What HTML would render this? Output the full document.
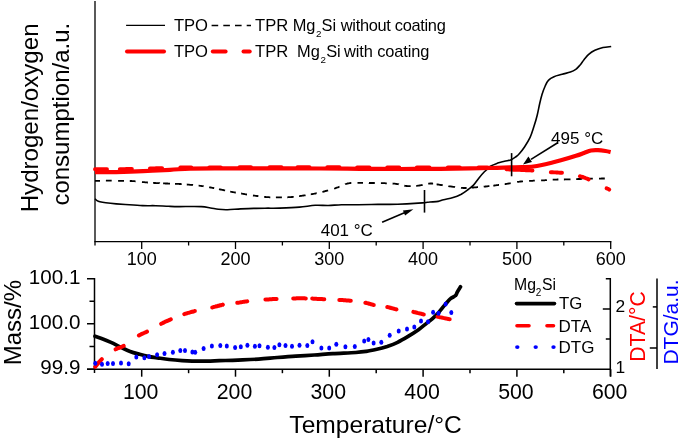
<!DOCTYPE html><html><head><meta charset="utf-8"><style>html,body{margin:0;padding:0;background:#fff;}svg{display:block;will-change:transform}</style></head><body>
<svg width="685" height="441" viewBox="0 0 685 441" font-family="&quot;Liberation Sans&quot;, sans-serif">
<rect width="685" height="441" fill="#fff"/>
<g stroke="#000" fill="none">
<line x1="95" y1="1" x2="95" y2="245.5" stroke-width="1.3"/>
<line x1="94.4" y1="241.5" x2="611.4" y2="241.5" stroke-width="1.25"/>
<line x1="141.7" y1="241.5" x2="141.7" y2="249.0" stroke-width="1.3"/>
<line x1="188.6" y1="241.5" x2="188.6" y2="245.5" stroke-width="1.3"/>
<line x1="235.5" y1="241.5" x2="235.5" y2="249.0" stroke-width="1.3"/>
<line x1="282.4" y1="241.5" x2="282.4" y2="245.5" stroke-width="1.3"/>
<line x1="329.3" y1="241.5" x2="329.3" y2="249.0" stroke-width="1.3"/>
<line x1="376.2" y1="241.5" x2="376.2" y2="245.5" stroke-width="1.3"/>
<line x1="423.1" y1="241.5" x2="423.1" y2="249.0" stroke-width="1.3"/>
<line x1="470.0" y1="241.5" x2="470.0" y2="245.5" stroke-width="1.3"/>
<line x1="516.9" y1="241.5" x2="516.9" y2="249.0" stroke-width="1.3"/>
<line x1="563.8" y1="241.5" x2="563.8" y2="245.5" stroke-width="1.3"/>
<line x1="610.7" y1="241.5" x2="610.7" y2="249.0" stroke-width="1.3"/>
</g>
<text x="141.7" y="265.1" font-size="18" text-anchor="middle">100</text>
<text x="235.5" y="265.1" font-size="18" text-anchor="middle">200</text>
<text x="329.3" y="265.1" font-size="18" text-anchor="middle">300</text>
<text x="423.1" y="265.1" font-size="18" text-anchor="middle">400</text>
<text x="516.9" y="265.1" font-size="18" text-anchor="middle">500</text>
<text x="610.7" y="265.1" font-size="18" text-anchor="middle">600</text>
<text transform="translate(38.2,212.3) rotate(-90)" font-size="24.1">Hydrogen/oxygen</text>
<text transform="translate(68.9,205.6) rotate(-90)" font-size="24">consumption/a.u.</text>
<path d="M95.0,180.8 L95.4,180.8 L95.8,180.8 L96.3,180.8 L96.9,180.8 L97.5,180.8 L98.2,180.8 L98.9,180.8 L99.6,180.8 L100.0,180.8 M105.9,180.7 L105.9,180.7 L106.7,180.7 L107.4,180.7 L108.1,180.7 L108.8,180.7 L109.4,180.7 L110.1,180.7 L110.7,180.7 L111.4,180.7 L111.7,180.7 M118.1,180.8 L118.6,180.8 L119.2,180.8 L119.8,180.8 L120.4,180.8 L121.0,180.8 L121.6,180.8 L122.2,180.8 L122.8,180.8 L123.4,180.8 L123.9,180.8 L124.0,180.8 M129.8,181.0 L130.3,181.0 L130.9,181.0 L131.5,181.0 L132.1,181.1 L132.7,181.1 L133.3,181.1 L133.9,181.2 L134.5,181.2 L135.1,181.3 L135.6,181.3 M142.0,182.0 L142.6,182.1 L143.2,182.1 L143.8,182.2 L144.4,182.2 L145.0,182.3 L145.6,182.3 L146.2,182.4 L146.8,182.4 L147.4,182.5 L147.9,182.5 M153.1,182.9 L153.1,182.9 L153.7,182.9 L154.2,183.0 L154.8,183.0 L155.3,183.0 L155.9,183.1 L156.4,183.1 L156.9,183.1 L157.5,183.2 L158.0,183.2 L158.5,183.2 L159.0,183.2 L159.5,183.2 L159.6,183.3 M163.1,183.4 L163.4,183.4 L163.9,183.4 L164.4,183.4 L164.9,183.4 L165.4,183.5 L166.0,183.5 L166.5,183.5 L167.1,183.5 L167.6,183.5 L168.2,183.6 L168.8,183.6 L169.3,183.6 L169.9,183.6 L170.0,183.6 M175.0,183.8 L175.3,183.8 L175.9,183.8 L176.5,183.8 L177.1,183.8 L177.7,183.9 L178.3,183.9 L178.9,183.9 L179.5,184.0 L180.0,184.0 L180.6,184.0 L181.2,184.1 L181.7,184.1 M186.8,184.5 L186.9,184.5 L187.5,184.6 L188.1,184.6 L188.7,184.7 L189.2,184.7 L189.8,184.8 L190.4,184.8 L190.9,184.9 L191.5,184.9 L192.1,185.0 L192.7,185.0 L192.9,185.1 M198.6,185.6 L198.9,185.6 L199.4,185.7 L200.0,185.8 L200.6,185.8 L201.1,185.9 L201.6,186.0 L202.2,186.1 L202.7,186.1 L203.3,186.2 L203.6,186.3 M209.2,187.2 L209.6,187.3 L210.1,187.4 L210.7,187.5 L211.2,187.6 L211.7,187.7 L212.2,187.8 L212.7,187.9 L213.3,188.0 L213.8,188.1 L214.2,188.2 M219.0,189.2 L219.4,189.3 L219.9,189.4 L220.4,189.5 L220.9,189.6 L221.5,189.7 L222.0,189.8 L222.5,189.9 L223.1,190.0 L223.6,190.1 L224.2,190.3 L224.7,190.4 L225.1,190.5 M230.2,191.5 L230.2,191.5 L230.8,191.7 L231.3,191.8 L231.9,191.9 L232.4,192.0 L233.0,192.1 L233.5,192.2 L234.1,192.3 L234.6,192.4 L235.2,192.5 L235.7,192.6 L235.8,192.6 M241.1,193.5 L241.2,193.5 L241.8,193.6 L242.3,193.7 L242.9,193.8 L243.4,193.9 L244.0,194.0 L244.6,194.1 L245.1,194.2 L245.7,194.3 L246.3,194.4 L246.9,194.5 L247.0,194.5 M253.0,195.4 L253.4,195.5 L254.0,195.6 L254.6,195.6 L255.1,195.7 L255.7,195.8 L256.3,195.9 L256.8,196.0 L257.4,196.0 L257.9,196.1 L258.4,196.2 M264.2,196.9 L264.3,196.9 L264.9,197.0 L265.5,197.0 L266.0,197.1 L266.6,197.1 L267.2,197.1 L267.8,197.2 L268.4,197.2 L269.0,197.2 L269.6,197.3 L270.2,197.3 L270.3,197.3 M275.9,197.4 L276.5,197.4 L277.1,197.4 L277.7,197.4 L278.3,197.4 L278.9,197.4 L279.5,197.4 L280.1,197.4 L280.7,197.4 L281.3,197.4 L281.8,197.4 L281.9,197.4 M287.3,197.3 L287.6,197.3 L288.2,197.2 L288.8,197.2 L289.3,197.2 L289.9,197.1 L290.5,197.1 L291.1,197.1 L291.7,197.0 L292.3,197.0 L292.9,196.9 L293.4,196.8 L293.7,196.8 M299.1,196.1 L299.4,196.1 L300.0,196.0 L300.5,195.9 L301.1,195.9 L301.7,195.8 L302.3,195.7 L302.9,195.6 L303.5,195.5 L304.0,195.4 L304.6,195.4 L305.2,195.3 L305.5,195.2 M310.8,194.3 L310.9,194.3 L311.4,194.2 L312.0,194.1 L312.6,194.0 L313.1,193.9 L313.7,193.8 L314.3,193.7 L314.8,193.6 L315.4,193.5 L316.0,193.3 L316.6,193.2 L316.7,193.2 M322.4,191.9 L322.9,191.8 L323.5,191.6 L324.0,191.5 L324.6,191.4 L325.2,191.2 L325.8,191.0 L326.4,190.9 L326.9,190.7 L327.5,190.6 L328.1,190.4 L328.1,190.4 M334.1,188.6 L334.5,188.5 L335.1,188.3 L335.6,188.1 L336.2,187.9 L336.8,187.7 L337.4,187.5 L337.9,187.3 L338.5,187.1 L339.1,186.8 L339.5,186.7 M345.2,184.3 L345.3,184.2 L345.9,184.0 L346.5,183.8 L347.0,183.7 L347.6,183.5 L348.2,183.4 L348.8,183.3 L349.4,183.2 L350.0,183.1 L350.6,183.0 L351.2,183.0 L351.3,183.0 M357.5,182.9 L357.8,182.9 L358.4,182.9 L359.0,182.9 L359.6,182.9 L360.2,182.9 L360.8,182.9 L361.4,182.9 L362.0,182.9 L362.6,182.9 L363.0,182.9 M368.9,182.9 L369.2,183.0 L369.8,183.0 L370.4,183.0 L371.0,183.0 L371.6,183.0 L372.2,183.0 L372.8,183.0 L373.4,183.0 L374.0,183.0 L374.5,183.0 L374.8,183.0 M380.9,183.1 L381.5,183.1 L382.1,183.1 L382.6,183.2 L383.2,183.2 L383.8,183.2 L384.4,183.2 L385.0,183.2 L385.6,183.3 L386.1,183.3 L386.7,183.3 L386.8,183.3 M392.6,183.5 L392.6,183.5 L393.2,183.6 L393.8,183.6 L394.4,183.7 L395.0,183.7 L395.6,183.8 L396.2,183.9 L396.8,184.0 L397.4,184.1 L398.0,184.2 L398.6,184.3 L398.7,184.4 M404.3,185.6 L404.5,185.7 L405.1,185.8 L405.7,185.9 L406.3,186.0 L406.9,186.0 L407.5,186.1 L408.1,186.1 L408.7,186.2 L409.3,186.2 L409.9,186.2 L410.5,186.2 L410.7,186.2 M416.2,185.8 L416.4,185.8 L417.0,185.8 L417.6,185.7 L418.1,185.6 L418.7,185.6 L419.3,185.5 L419.9,185.4 L420.4,185.3 L421.0,185.2 L421.6,185.1 L422.2,185.0 L422.6,184.9 M428.2,183.7 L428.3,183.7 L428.8,183.6 L429.4,183.6 L429.9,183.5 L430.4,183.5 L430.9,183.5 L431.4,183.5 L431.9,183.5 L432.3,183.5 L432.8,183.6 L433.1,183.6 M436.6,184.3 L436.7,184.3 L437.1,184.4 L437.6,184.5 L438.1,184.5 L438.6,184.6 L439.1,184.7 L439.6,184.8 L440.1,184.9 L440.7,185.0 L441.3,185.0 L441.8,185.1 L442.4,185.2 L442.7,185.3 M448.4,186.1 L448.6,186.2 L449.2,186.3 L449.9,186.3 L450.5,186.4 L451.1,186.5 L451.7,186.6 L452.3,186.7 L452.9,186.8 L453.5,186.9 L454.1,186.9 L454.8,187.0 L455.0,187.1 M461.0,187.8 L461.5,187.9 L462.1,187.9 L462.6,187.9 L463.2,188.0 L463.8,188.0 L464.4,188.0 L464.9,188.0 L465.5,188.0 L466.0,188.0 L466.6,188.0 L466.6,188.0 M471.5,187.7 L471.9,187.6 L472.5,187.6 L473.0,187.5 L473.6,187.5 L474.1,187.4 L474.7,187.4 L475.3,187.4 L475.9,187.3 L476.4,187.3 L477.0,187.2 L477.6,187.2 L478.0,187.2 M483.7,186.7 L484.3,186.6 L484.8,186.6 L485.4,186.5 L486.0,186.5 L486.5,186.4 L487.0,186.3 L487.5,186.3 L488.0,186.2 L488.5,186.2 L489.0,186.1 L489.4,186.1 M493.3,185.6 L493.5,185.6 L494.0,185.6 L494.5,185.5 L495.0,185.4 L495.5,185.4 L496.0,185.3 L496.5,185.2 L497.1,185.2 L497.6,185.1 L498.2,185.0 L498.7,184.9 L499.0,184.9 M504.7,184.1 L505.2,184.1 L505.8,184.0 L506.4,183.9 L507.0,183.8 L507.6,183.7 L508.2,183.6 L508.8,183.5 L509.4,183.4 L510.0,183.3 L510.7,183.2 L510.7,183.2 M517.1,182.0 L517.5,181.9 L518.2,181.8 L518.8,181.8 L519.4,181.7 L520.0,181.6 L520.6,181.5 L521.2,181.5 L521.8,181.4 L522.4,181.4 L523.0,181.3 M529.1,180.9 L529.6,180.9 L530.2,180.9 L530.8,180.9 L531.4,180.8 L532.0,180.8 L532.6,180.8 L533.2,180.7 L533.8,180.7 L534.4,180.7 L534.8,180.7 M541.1,180.4 L541.6,180.4 L542.2,180.4 L542.8,180.4 L543.4,180.3 L544.0,180.3 L544.6,180.3 L545.2,180.2 L545.8,180.2 L546.3,180.2 L546.9,180.1 M552.7,179.7 L553.2,179.7 L553.8,179.7 L554.3,179.7 L554.9,179.6 L555.5,179.6 L556.1,179.6 L556.7,179.6 L557.2,179.5 L557.8,179.5 L558.4,179.5 M563.9,179.5 L564.2,179.5 L564.8,179.4 L565.4,179.4 L566.0,179.4 L566.6,179.4 L567.2,179.4 L567.8,179.4 L568.4,179.4 L569.0,179.3 L569.6,179.3 L570.2,179.3 L570.5,179.3 M576.2,179.1 L576.2,179.1 L576.8,179.1 L577.4,179.1 L578.0,179.0 L578.6,179.0 L579.2,179.0 L579.8,179.0 L580.3,179.0 L580.9,178.9 L581.4,178.9 L582.0,178.9 L582.3,178.9 M588.0,178.8 L588.5,178.7 L589.1,178.7 L589.8,178.7 L590.4,178.7 L591.1,178.7 L591.8,178.7 L592.5,178.7 L592.8,178.7 M599.0,178.6 L599.2,178.6 L600.0,178.6 L600.8,178.6 L601.6,178.5 L602.3,178.5 L603.0,178.5 L603.6,178.5 L604.1,178.5 L604.6,178.5 L604.8,178.5" fill="none" stroke="#000" stroke-width="1.8"/>
<path d="M95.0,198.7 C95.3,199.0 96.2,200.1 97.0,200.6 C97.8,201.1 98.4,201.4 99.9,201.8 C101.4,202.2 103.1,202.5 105.8,202.8 C108.5,203.2 112.4,203.6 116.3,203.9 C120.2,204.2 125.0,204.5 129.4,204.8 C133.8,205.1 138.2,205.4 142.6,205.6 C147.0,205.8 151.3,205.6 155.7,205.7 C160.1,205.8 164.9,206.2 168.8,206.3 C172.8,206.5 174.0,206.6 179.4,206.6 C184.8,206.6 196.1,206.4 201.3,206.6 C206.5,206.8 207.7,207.6 210.5,208.0 C213.3,208.4 215.6,209.0 218.4,209.3 C221.2,209.6 223.9,209.8 227.6,209.7 C231.3,209.6 236.3,209.1 240.7,208.9 C245.1,208.7 249.8,208.5 253.8,208.4 C257.9,208.3 260.7,208.2 265.0,208.2 C269.3,208.1 274.0,208.3 279.7,208.1 C285.4,207.9 293.5,207.6 299.4,207.1 C305.3,206.6 310.4,205.6 315.2,205.3 C320.0,205.0 323.9,205.6 328.3,205.5 C332.7,205.4 336.5,204.8 341.5,204.7 C346.5,204.6 352.0,204.8 358.1,204.7 C364.2,204.6 371.3,204.5 377.9,204.4 C384.5,204.3 391.5,204.4 397.6,204.2 C403.7,204.0 410.1,203.7 414.6,203.4 C419.1,203.2 421.9,202.9 424.5,202.7 C427.1,202.5 427.7,202.2 430.0,202.0 C432.3,201.8 435.9,201.8 438.2,201.4 C440.5,201.0 441.1,200.3 443.6,199.7 C446.1,199.1 450.2,198.5 453.1,197.6 C456.1,196.7 458.8,195.5 461.3,194.2 C463.8,192.8 466.1,191.0 468.1,189.5 C470.1,188.0 471.7,187.0 473.5,185.1 C475.3,183.2 477.2,180.1 479.0,177.9 C480.8,175.7 482.4,173.8 484.4,171.8 C486.4,169.8 488.7,167.4 490.9,166.0 C493.1,164.6 495.4,163.9 497.7,163.1 C500.0,162.3 502.2,161.9 504.5,161.3 C506.8,160.7 509.3,160.5 511.3,159.7 C513.3,158.9 514.9,157.5 516.3,156.5 C517.7,155.5 518.1,155.1 519.5,153.5 C520.9,151.9 522.7,149.7 524.5,147.0 C526.3,144.3 528.5,140.8 530.1,137.4 C531.7,134.0 532.8,130.0 534.0,126.3 C535.2,122.6 536.3,118.9 537.2,115.2 C538.1,111.5 538.8,107.5 539.6,104.0 C540.4,100.5 541.1,97.5 542.0,94.5 C542.9,91.5 544.1,88.4 545.2,86.0 C546.3,83.6 547.1,81.6 548.6,80.1 C550.1,78.5 551.7,77.7 554.0,76.7 C556.3,75.7 559.5,75.1 562.2,74.3 C564.9,73.5 568.1,72.8 570.4,72.0 C572.7,71.2 574.2,70.4 575.8,69.3 C577.4,68.2 578.5,66.8 579.9,65.2 C581.3,63.6 582.5,61.5 584.0,59.7 C585.5,57.9 586.9,55.9 588.7,54.3 C590.5,52.7 592.5,51.3 594.9,50.2 C597.3,49.1 600.3,48.1 603.0,47.5 C605.7,46.9 609.8,46.7 611.2,46.5" fill="none" stroke="#000" stroke-width="1.6"/>
<path d="M95.0,172.2 C98.5,172.2 108.0,172.3 116.0,172.1 C124.0,171.9 134.0,171.6 143.0,171.2 C152.0,170.8 162.2,170.2 170.0,169.8 C177.8,169.4 182.5,168.8 190.0,168.6 C197.5,168.4 202.5,168.4 215.0,168.4 C227.5,168.4 247.5,168.3 265.0,168.3 C282.5,168.3 304.2,168.4 320.0,168.5 C335.8,168.6 346.7,168.7 360.0,168.8 C373.3,168.9 386.7,169.0 400.0,169.0 C413.3,169.0 428.3,168.9 440.0,168.8 C451.7,168.7 461.7,168.5 470.0,168.4 C478.3,168.3 483.3,168.2 490.0,168.0 C496.7,167.8 504.7,167.5 510.0,167.4 C515.3,167.3 517.5,167.4 522.0,167.2 C526.5,167.0 530.7,167.1 537.0,166.0 C543.3,164.9 553.5,162.2 560.0,160.5 C566.5,158.8 572.0,157.1 576.0,155.8 C580.0,154.6 581.5,153.9 584.0,153.0 C586.5,152.1 588.7,151.0 591.0,150.5 C593.3,150.0 595.6,150.1 598.0,150.2 C600.4,150.3 603.4,150.7 605.5,151.0 C607.6,151.3 609.8,151.9 610.6,152.1" fill="none" stroke="#ff0000" stroke-width="4.2" stroke-linejoin="round"/>
<path d="M95.0,169.2 L96.0,169.2 L97.1,169.2 L98.4,169.2 L99.8,169.2 L101.4,169.2 L103.1,169.2 L104.9,169.2 L106.7,169.2 L107.0,169.2 M119.8,169.1 L120.8,169.1 L122.8,169.1 L124.7,169.1 L126.5,169.0 L128.3,169.0 L130.0,169.0 L131.6,169.0 L131.9,169.0 M149.9,168.5 L150.5,168.5 L152.0,168.5 L153.4,168.4 L154.8,168.4 L156.1,168.3 L157.5,168.3 L158.8,168.2 L160.0,168.2 L161.1,168.2 L162.0,168.1 L162.1,168.1 M180.3,167.5 L181.8,167.5 L185.0,167.5 L188.6,167.4 L191.3,167.4 M209.3,167.4 L210.1,167.4 L214.9,167.4 L219.8,167.4 L220.8,167.4 M239.5,167.3 L244.1,167.3 L248.7,167.3 L251.0,167.3 M269.5,167.3 L271.8,167.3 L275.1,167.3 L278.2,167.3 L281.3,167.3 L281.5,167.3 M297.5,167.3 L298.0,167.3 L300.6,167.3 L303.1,167.3 L305.6,167.3 L308.0,167.3 L309.5,167.3 M327.3,167.3 L329.0,167.3 L331.1,167.3 L333.1,167.3 L335.1,167.3 L337.1,167.3 L339.0,167.3 L339.5,167.3 M357.1,167.4 L358.0,167.4 L360.0,167.4 L362.0,167.4 L364.0,167.4 L366.0,167.4 L368.0,167.4 L369.5,167.4 M387.2,167.5 L388.0,167.5 L390.0,167.5 L392.0,167.5 L394.0,167.5 L396.0,167.5 L398.0,167.5 L399.3,167.5 M416.8,167.5 L418.0,167.5 L420.0,167.5 L422.0,167.5 L424.0,167.5 L426.0,167.5 L428.0,167.5 L429.5,167.5 M447.8,167.5 L448.4,167.5 L450.6,167.5 L452.8,167.5 L455.0,167.4 L457.2,167.4 L459.4,167.4 L459.8,167.4 M478.5,167.4 L478.6,167.4 L480.0,167.4 L481.3,167.4 L482.5,167.4 L483.6,167.4 L484.7,167.5 L485.6,167.5 L486.5,167.5 L487.3,167.5 L488.0,167.6 L488.7,167.6 L489.3,167.6 L489.9,167.6 L490.5,167.7 L490.5,167.7 M506.5,169.3 L507.0,169.4 L508.2,169.4 L509.4,169.5 L510.7,169.6 L512.1,169.6 L513.6,169.7 L515.0,169.7 L516.6,169.8 L518.2,169.9 L519.7,169.9 L521.3,170.0 L522.9,170.1 L524.5,170.1 L526.0,170.2 L527.5,170.3 L528.9,170.3 L530.3,170.4 L531.6,170.5 L532.5,170.5 M550.8,172.2 L551.5,172.2 L552.2,172.3 L552.9,172.3 L553.6,172.4 L554.3,172.4 L555.0,172.4 L555.7,172.4 L556.4,172.5 L557.1,172.5 L557.8,172.5 L558.5,172.6 L559.2,172.6 L559.9,172.7 L560.6,172.7 L561.3,172.8 L562.0,172.8 M579.9,176.2 L580.3,176.3 L580.9,176.5 L581.5,176.7 L582.1,176.9 L582.6,177.0 L583.2,177.2 L583.7,177.4 L584.3,177.6 L584.9,177.8 L585.4,178.0 L586.0,178.2 L586.5,178.5 L587.1,178.7 L587.7,178.9 L588.3,179.2 L588.7,179.4 M606.6,188.3 L606.9,188.4 L607.3,188.6 L607.6,188.8 L608.0,188.9 L608.3,189.1 L608.6,189.2 L608.8,189.4 L609.1,189.5 L609.2,189.6" fill="none" stroke="#ff0000" stroke-width="3.9" stroke-linecap="round"/>
<g stroke="#000" stroke-width="1.6">
<line x1="424.5" y1="190" x2="424.5" y2="212.6"/>
<line x1="511.6" y1="153.1" x2="511.6" y2="176.3"/>
<line x1="382.1" y1="222.3" x2="405" y2="212.5"/>
<line x1="557.7" y1="142.7" x2="531" y2="159.4"/>
</g>
<path d="M413.4,209.2 L402.9,210.4 L405.1,215.6 Z" fill="#000"/>
<path d="M523,164.4 L528.4,156.4 L532,162 Z" fill="#000"/>
<text x="320.7" y="235.5" font-size="17">401 °C</text>
<text x="551.1" y="143.9" font-size="17">495 °C</text>
<line x1="126.1" y1="25.4" x2="165" y2="25.4" stroke="#000" stroke-width="1.4"/>
<line x1="211.6" y1="25.4" x2="251" y2="25.4" stroke="#000" stroke-width="1.5" stroke-dasharray="6.6 5.1"/>
<line x1="127" y1="51.4" x2="164" y2="51.4" stroke="#ff0000" stroke-width="4" stroke-linecap="round"/>
<line x1="212.8" y1="51.4" x2="225.6" y2="51.4" stroke="#ff0000" stroke-width="4" stroke-linecap="round"/>
<line x1="243.5" y1="51.4" x2="249.7" y2="51.4" stroke="#ff0000" stroke-width="4" stroke-linecap="round"/>
<text x="173.9" y="31" font-size="16.6">TPO</text>
<text x="173.9" y="57" font-size="16.6">TPO</text>
<text x="255" y="31" font-size="16.6">TPR</text><text x="292.7" y="31" font-size="16.4">Mg</text><text x="316" y="37.3" font-size="9.8">2</text><text x="321.6" y="31" font-size="16.4">Si</text><text x="340.8" y="31" font-size="16.4" textLength="105" lengthAdjust="spacing">without coating</text>
<text x="255" y="57" font-size="16.6">TPR</text><text x="297" y="57" font-size="16.4">Mg</text><text x="320.6" y="63.3" font-size="9.8">2</text><text x="326.2" y="57" font-size="16.4">Si</text><text x="344.1" y="57" font-size="16.4" textLength="85.3" lengthAdjust="spacing">with coating</text>
<g stroke="#000" fill="none" stroke-width="1.5">
<line x1="94.5" y1="278" x2="94.5" y2="373"/>
<line x1="87" y1="369.2" x2="611" y2="369.2"/>
<line x1="87" y1="278.75" x2="94.5" y2="278.75"/>
<line x1="87" y1="323.75" x2="94.5" y2="323.75"/>
<line x1="87" y1="369.25" x2="94.5" y2="369.25"/>
<line x1="89.5" y1="301.25" x2="94.5" y2="301.25"/>
<line x1="89.5" y1="346.5" x2="94.5" y2="346.5"/>
<line x1="141.7" y1="369.2" x2="141.7" y2="376.7"/>
<line x1="188.6" y1="369.2" x2="188.6" y2="373.2"/>
<line x1="235.5" y1="369.2" x2="235.5" y2="376.7"/>
<line x1="282.4" y1="369.2" x2="282.4" y2="373.2"/>
<line x1="329.3" y1="369.2" x2="329.3" y2="376.7"/>
<line x1="376.2" y1="369.2" x2="376.2" y2="373.2"/>
<line x1="423.1" y1="369.2" x2="423.1" y2="376.7"/>
<line x1="470.0" y1="369.2" x2="470.0" y2="373.2"/>
<line x1="516.9" y1="369.2" x2="516.9" y2="376.7"/>
<line x1="563.8" y1="369.2" x2="563.8" y2="373.2"/>
<line x1="610.7" y1="369.2" x2="610.7" y2="376.7"/>
<line x1="610.3" y1="278" x2="610.3" y2="376.5"/>
<line x1="605.8" y1="278.75" x2="610.3" y2="278.75"/>
<line x1="602.8" y1="309" x2="610.3" y2="309"/>
<line x1="605.8" y1="339" x2="610.3" y2="339"/>
<line x1="657" y1="278.5" x2="657" y2="369"/>
<line x1="652.8" y1="306.9" x2="657" y2="306.9"/>
<line x1="649.8" y1="348" x2="657" y2="348"/>
</g>
<text x="140.7" y="399.2" font-size="21.3" text-anchor="middle">100</text>
<text x="234.5" y="399.2" font-size="21.3" text-anchor="middle">200</text>
<text x="328.3" y="399.2" font-size="21.3" text-anchor="middle">300</text>
<text x="422.1" y="399.2" font-size="21.3" text-anchor="middle">400</text>
<text x="515.9" y="399.2" font-size="21.3" text-anchor="middle">500</text>
<text x="609.7" y="399.2" font-size="21.3" text-anchor="middle">600</text>
<text x="80.4" y="284" font-size="20.6" text-anchor="end">100.1</text>
<text x="80.4" y="328.8" font-size="20.6" text-anchor="end">100.0</text>
<text x="80.4" y="373.5" font-size="20.6" text-anchor="end">99.9</text>
<text x="615.5" y="312.4" font-size="17.4">2</text>
<text x="615.5" y="372.6" font-size="17.4">1</text>
<text x="375.6" y="433" font-size="24.6" text-anchor="middle">Temperature/°C</text>
<text transform="translate(20.7,365.3) rotate(-90)" font-size="24">Mass/%</text>
<text transform="translate(645.4,361.7) rotate(-90)" font-size="21.2" fill="#ff0000">DTA/°C</text>
<text transform="translate(677.9,364.6) rotate(-90)" font-size="21" fill="#0000ff">DTG/a.u.</text>
<path d="M95.0,336.2 C96.1,336.6 98.8,337.6 101.5,338.6 C104.2,339.6 107.8,341.0 111.0,342.4 C114.2,343.8 117.4,345.6 120.6,347.1 C123.8,348.6 126.9,350.2 130.1,351.4 C133.3,352.6 136.4,353.4 139.6,354.3 C142.8,355.2 146.1,356.0 149.1,356.6 C152.1,357.2 154.1,357.3 157.4,357.8 C160.8,358.3 165.1,359.0 169.2,359.5 C173.3,360.0 176.9,360.3 182.2,360.6 C187.5,360.9 194.6,361.2 200.8,361.2 C207.0,361.2 213.1,360.9 219.3,360.7 C225.5,360.5 231.3,360.4 237.9,360.1 C244.5,359.8 252.1,359.5 258.6,359.1 C265.2,358.7 271.0,358.0 277.2,357.5 C283.4,357.0 289.6,356.5 295.8,356.1 C302.0,355.7 308.1,355.4 314.3,355.0 C320.5,354.6 326.0,354.0 332.9,353.6 C339.8,353.2 350.3,352.9 355.9,352.5 C361.5,352.1 362.8,351.9 366.3,351.4 C369.8,350.8 373.3,350.0 376.8,349.2 C380.3,348.4 383.7,347.5 387.2,346.4 C390.7,345.2 394.1,344.0 397.6,342.3 C401.1,340.6 404.6,338.5 408.1,336.4 C411.6,334.3 415.5,331.8 418.5,329.7 C421.5,327.6 423.9,325.5 426.2,323.6 C428.5,321.8 430.4,320.5 432.5,318.6 C434.6,316.7 436.6,314.7 438.7,312.4 C440.8,310.1 442.9,307.2 444.9,304.9 C446.9,302.6 448.7,300.2 450.5,298.7 C452.3,297.1 454.4,296.8 455.5,295.6 C456.6,294.5 456.6,293.3 457.4,291.8 C458.2,290.3 460.0,287.6 460.5,286.8" fill="none" stroke="#000" stroke-width="3.7" stroke-linecap="round"/>
<path d="M95.2,366.8 L95.2,366.8 L95.5,366.5 L95.7,366.1 L96.0,365.8 L96.4,365.4 L96.7,365.0 L97.1,364.5 L97.5,364.0 L97.9,363.6 L98.3,363.1 L98.7,362.5 L99.2,362.0 L99.6,361.5 L100.1,361.0 L100.6,360.5 L101.1,360.0 L101.5,359.5 L101.8,359.2 M115.6,349.3 L116.0,349.1 L116.5,348.9 L117.0,348.7 L117.5,348.4 L118.0,348.2 L118.6,348.0 L119.1,347.8 L119.6,347.7 L120.1,347.5 L120.6,347.3 L121.1,347.1 L121.6,346.8 L122.1,346.6 L122.7,346.4 L123.2,346.1 L123.7,345.9 M138.9,335.5 L139.4,335.2 L139.9,334.9 L140.5,334.7 L141.0,334.4 L141.5,334.2 L142.0,333.9 L142.5,333.7 L143.0,333.5 L143.5,333.2 L144.0,333.0 L144.5,332.8 L145.0,332.5 L145.5,332.3 L146.1,332.1 L146.6,331.8 L147.0,331.6 M161.2,323.8 L161.8,323.5 L162.4,323.2 L163.0,322.9 L163.6,322.6 L164.2,322.3 L164.8,322.0 L165.4,321.7 L166.0,321.5 L166.7,321.2 L167.3,320.9 L167.9,320.6 L168.5,320.4 L169.1,320.1 L169.7,319.8 L170.2,319.6 L170.8,319.3 M184.3,314.1 L184.3,314.1 L184.9,313.9 L185.5,313.7 L186.2,313.5 L186.8,313.3 L187.4,313.1 L188.1,312.9 L188.7,312.8 L189.4,312.6 L190.0,312.4 L190.7,312.2 L191.3,312.0 L192.0,311.8 L192.7,311.7 L193.3,311.5 L194.0,311.3 L194.7,311.1 L194.9,311.1 M212.2,307.4 L212.4,307.4 L213.1,307.2 L213.7,307.0 L214.4,306.9 L215.1,306.7 L215.7,306.5 L216.4,306.3 L217.0,306.2 L217.7,306.0 L218.3,305.8 L219.0,305.7 L219.6,305.5 L220.2,305.3 L220.9,305.2 L221.5,305.0 L222.1,304.9 L222.7,304.8 L222.8,304.7 M237.3,302.8 L237.3,302.8 L237.9,302.7 L238.5,302.7 L239.1,302.6 L239.7,302.5 L240.3,302.4 L240.8,302.3 L241.4,302.2 L242.0,302.1 L242.6,302.0 L243.2,301.9 L243.8,301.8 L244.4,301.7 L245.1,301.6 L245.7,301.5 L246.4,301.5 L247.0,301.4 L247.2,301.3 M265.4,299.6 L265.6,299.6 L266.3,299.5 L266.9,299.5 L267.6,299.4 L268.2,299.4 L268.8,299.4 L269.5,299.3 L270.1,299.3 L270.7,299.2 L271.3,299.2 L271.9,299.2 L272.6,299.1 L273.2,299.1 L273.8,299.1 L274.5,299.0 L275.1,299.0 L275.8,299.0 L276.5,298.9 L276.6,298.9 M293.2,298.4 L293.7,298.4 L294.4,298.4 L295.1,298.4 L295.8,298.4 L296.5,298.3 L297.2,298.3 L297.8,298.3 L298.5,298.3 L299.1,298.3 L299.8,298.3 L300.4,298.3 L301.1,298.3 L301.8,298.3 L302.4,298.3 L303.1,298.3 L303.8,298.3 L304.6,298.3 L305.3,298.4 L305.8,298.4 M312.2,298.6 L312.3,298.6 L313.3,298.7 L314.3,298.7 L315.3,298.8 L316.3,298.8 L317.3,298.9 L318.3,298.9 L319.2,299.0 L320.2,299.0 L321.2,299.1 L322.1,299.1 L323.0,299.2 L323.9,299.2 L324.3,299.2 M339.3,299.9 L339.4,299.9 L340.1,299.9 L340.8,300.0 L341.5,300.0 L342.1,300.1 L342.8,300.1 L343.5,300.2 L344.2,300.2 L344.9,300.3 L345.6,300.3 L346.3,300.4 L347.0,300.5 L347.7,300.5 L348.4,300.6 L349.0,300.6 L349.7,300.7 L350.4,300.8 L350.8,300.8 M365.4,302.7 L365.9,302.8 L366.4,303.0 L366.9,303.1 L367.5,303.2 L368.0,303.4 L368.5,303.5 L369.0,303.7 L369.5,303.8 L370.0,303.9 L370.5,304.1 L371.0,304.2 L371.5,304.4 L372.1,304.5 L372.6,304.6 L373.1,304.8 L373.6,304.9 L373.8,304.9 M387.3,307.0 L387.8,307.1 L388.3,307.2 L388.9,307.4 L389.4,307.5 L390.0,307.7 L390.5,307.8 L391.1,308.0 L391.6,308.1 L392.2,308.3 L392.8,308.4 L393.3,308.6 L393.9,308.7 L394.5,308.9 L395.1,309.1 L395.7,309.2 L396.3,309.3 L396.4,309.4 M413.4,311.9 L413.7,312.0 L414.5,312.2 L415.2,312.3 L416.0,312.5 L416.8,312.7 L417.5,312.9 L418.3,313.1 L419.1,313.3 L419.9,313.4 L420.6,313.6 L421.4,313.8 L422.1,314.0 L422.9,314.2 L423.6,314.4 L423.8,314.4 M437.5,316.7 L437.6,316.7 L438.3,316.9 L439.1,317.0 L439.9,317.2 L440.8,317.4 L441.6,317.6 L442.5,317.7 L443.3,317.9 L444.2,318.1 L445.0,318.3 L445.9,318.4 L446.7,318.6 L447.4,318.8 L448.2,318.9 L448.8,319.1 L449.5,319.2 L449.7,319.2" fill="none" stroke="#ff0000" stroke-width="4" stroke-linecap="round"/>
<g fill="#0000ff">
<ellipse cx="95.3" cy="363.3" rx="2" ry="2.5"/>
<ellipse cx="102" cy="364.3" rx="2" ry="2.5"/>
<ellipse cx="107.7" cy="363.5" rx="2" ry="2.5"/>
<ellipse cx="113" cy="363.5" rx="2" ry="2.5"/>
<ellipse cx="121" cy="362.9" rx="2" ry="2.5"/>
<ellipse cx="128.7" cy="363.8" rx="2" ry="2.5"/>
<ellipse cx="136.3" cy="357.1" rx="2" ry="2.5"/>
<ellipse cx="144.4" cy="357.8" rx="2" ry="2.5"/>
<ellipse cx="149" cy="356.5" rx="2" ry="2.5"/>
<ellipse cx="157.1" cy="354.7" rx="2" ry="2.5"/>
<ellipse cx="164.5" cy="353.6" rx="2" ry="2.5"/>
<ellipse cx="172.9" cy="352.3" rx="2" ry="2.5"/>
<ellipse cx="180.3" cy="350.4" rx="2" ry="2.5"/>
<ellipse cx="185" cy="350.4" rx="2" ry="2.5"/>
<ellipse cx="192.4" cy="351.9" rx="2" ry="2.5"/>
<ellipse cx="195.2" cy="352.3" rx="2" ry="2.5"/>
<ellipse cx="203.6" cy="348.6" rx="2" ry="2.5"/>
<ellipse cx="211.9" cy="346.1" rx="2" ry="2.5"/>
<ellipse cx="220.3" cy="345.4" rx="2" ry="2.5"/>
<ellipse cx="226.8" cy="346.1" rx="2" ry="2.5"/>
<ellipse cx="235.1" cy="347.6" rx="2" ry="2.5"/>
<ellipse cx="240.8" cy="346.7" rx="2" ry="2.5"/>
<ellipse cx="247.4" cy="345.2" rx="2" ry="2.5"/>
<ellipse cx="254.9" cy="346.3" rx="2" ry="2.5"/>
<ellipse cx="259.5" cy="345.8" rx="2" ry="2.5"/>
<ellipse cx="267.9" cy="347.2" rx="2" ry="2.5"/>
<ellipse cx="274.4" cy="347.6" rx="2" ry="2.5"/>
<ellipse cx="279.4" cy="344.8" rx="2" ry="2.5"/>
<ellipse cx="285.5" cy="345.4" rx="2" ry="2.5"/>
<ellipse cx="292" cy="346.3" rx="2" ry="2.5"/>
<ellipse cx="299.5" cy="345.2" rx="2" ry="2.5"/>
<ellipse cx="307.3" cy="345.4" rx="2" ry="2.5"/>
<ellipse cx="312.5" cy="341.7" rx="2" ry="2.5"/>
<ellipse cx="321.4" cy="348" rx="2" ry="2.5"/>
<ellipse cx="329.2" cy="348" rx="2" ry="2.5"/>
<ellipse cx="336.3" cy="344.2" rx="2" ry="2.5"/>
<ellipse cx="345.4" cy="346.8" rx="2" ry="2.5"/>
<ellipse cx="354.8" cy="346.4" rx="2" ry="2.5"/>
<ellipse cx="364.2" cy="341" rx="2" ry="2.5"/>
<ellipse cx="368.4" cy="339.5" rx="2" ry="2.5"/>
<ellipse cx="373.6" cy="343" rx="2" ry="2.5"/>
<ellipse cx="381.3" cy="342.2" rx="2" ry="2.5"/>
<ellipse cx="389.7" cy="335.3" rx="2" ry="2.5"/>
<ellipse cx="398.7" cy="331.1" rx="2" ry="2.5"/>
<ellipse cx="407" cy="329.1" rx="2" ry="2.5"/>
<ellipse cx="414.3" cy="327" rx="2" ry="2.5"/>
<ellipse cx="421" cy="321.1" rx="2" ry="2.5"/>
<ellipse cx="428" cy="321.8" rx="2" ry="2.5"/>
<ellipse cx="433.1" cy="312.3" rx="2" ry="2.5"/>
<ellipse cx="438.5" cy="313.2" rx="2" ry="2.5"/>
<ellipse cx="445.6" cy="304" rx="2" ry="2.5"/>
<ellipse cx="451.3" cy="312.4" rx="2" ry="2.5"/>
</g>
<text x="514" y="289.5" font-size="15.8">Mg</text><text x="535.8" y="296" font-size="10">2</text><text x="541.9" y="289.5" font-size="15.8">Si</text>
<line x1="516.5" y1="303.6" x2="554.5" y2="303.6" stroke="#000" stroke-width="3.6" stroke-linecap="round"/>
<line x1="517" y1="325.7" x2="529" y2="325.7" stroke="#ff0000" stroke-width="3.6" stroke-linecap="round"/>
<line x1="547" y1="325.7" x2="553.5" y2="325.7" stroke="#ff0000" stroke-width="3.6" stroke-linecap="round"/>
<ellipse cx="517.3" cy="347.1" rx="2.2" ry="1.9" fill="#0000ff"/>
<ellipse cx="535.7" cy="347.1" rx="2.2" ry="1.9" fill="#0000ff"/>
<ellipse cx="553.5" cy="347.1" rx="2.2" ry="1.9" fill="#0000ff"/>
<text x="559" y="309.4" font-size="16.8">TG</text>
<text x="558.5" y="331.6" font-size="17">DTA</text>
<text x="558.5" y="352.7" font-size="17">DTG</text>
</svg></body></html>
